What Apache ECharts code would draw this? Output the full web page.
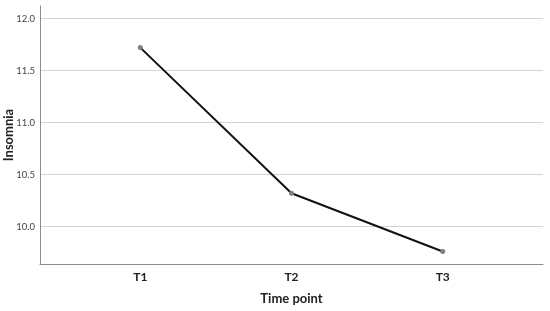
<!DOCTYPE html>
<html>
<head>
<meta charset="utf-8">
<script src="https://cdn.jsdelivr.net/npm/echarts@6/dist/echarts.min.js"></script>
<style>
  html, body { margin: 0; padding: 0; background: #fff; }
  #chart { width: 550px; height: 311px; }
</style>
</head>
<body>
<div id="chart"></div>
<script>
const chart = echarts.init(document.getElementById('chart'))

// Data
const timePoints = ['T1', 'T2', 'T3']
const insomnia = [11.72, 10.32, 9.76]
const yTicks = [10.0, 10.5, 11.0, 11.5, 12.0]
const xPositions = [1, 2, 3]

const font = 'Lato, "Open Sans", sans-serif'

const option = {
  animation: false,
  backgroundColor: '#fff',
  grid: { left: 40, right: 7, top: 6, bottom: 47, outerBoundsMode: 'none', containLabel: false },
  xAxis: {
    type: 'value',
    min: 0.337,
    max: 3.663,
    name: 'Time point',
    nameLocation: 'middle',
    nameGap: 28,
    nameMoveOverlap: false,
    nameTextStyle: { fontFamily: font, fontSize: 13, fontWeight: 'bold', color: '#222' },
    axisLine: { lineStyle: { color: '#8c8c8c', width: 1 } },
    axisTick: { show: false },
    splitLine: { show: false },
    axisLabel: {
      customValues: xPositions,
      formatter: (v) => timePoints[Math.round(v) - 1] || '',
      fontFamily: font,
      fontSize: 12,
      fontWeight: 'bold',
      color: '#222',
      margin: 7,
    },
  },
  yAxis: {
    type: 'value',
    min: 9.64,
    max: 12.12,
    name: 'Insomnia',
    nameLocation: 'middle',
    nameGap: 25,
    nameMoveOverlap: false,
    nameTextStyle: { fontFamily: font, fontSize: 13, fontWeight: 'bold', color: '#222' },
    axisLine: { show: true, lineStyle: { color: '#8c8c8c', width: 1 } },
    axisTick: { show: false, customValues: yTicks },
    axisLabel: {
      customValues: yTicks,
      formatter: (v) => v.toFixed(1),
      fontFamily: font,
      fontSize: 9.5,
      color: '#444',
      margin: 5,
    },
    splitLine: { show: true, lineStyle: { color: '#d4d4d4', width: 1 } },
  },
  series: [
    {
      type: 'line',
      data: xPositions.map((x, i) => [x, insomnia[i]]),
      symbol: 'circle',
      symbolSize: 5,
      itemStyle: { color: '#808080' },
      lineStyle: { color: '#111', width: 2 },
      z: 3,
    },
  ],
}

chart.setOption(option)
</script>
</body>
</html>
